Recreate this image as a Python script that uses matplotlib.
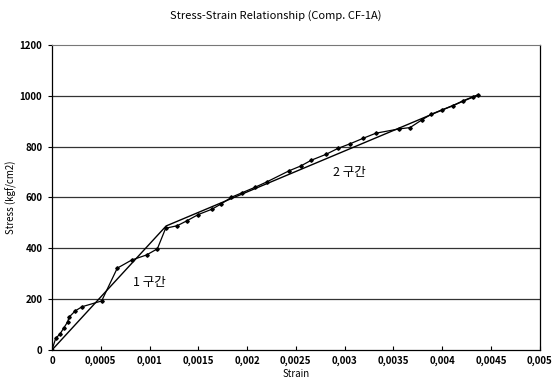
import numpy as np
from matplotlib import pyplot as plt
from matplotlib.ticker import FuncFormatter

plt.rcParams['font.family'] = ['Noto Sans CJK KR', 'DejaVu Sans']

strain = [0.0, 0.000038, 0.000082, 0.000123, 0.000161, 0.000174, 0.000239, 0.000307,
          0.000509, 0.000669, 0.000817, 0.00097, 0.00108, 0.001165, 0.001284, 0.001386,
          0.0015, 0.00164, 0.001735, 0.00184, 0.00195, 0.00208, 0.0022, 0.00243,
          0.00255, 0.00266, 0.00281, 0.00293, 0.00306, 0.00319, 0.00332, 0.00356,
          0.00367, 0.00379, 0.00389, 0.004, 0.00411, 0.00421, 0.00432, 0.00437]
stress = [0, 46, 63, 88, 111, 129, 154, 170,
          193, 322, 354, 374, 398, 479, 489, 509,
          533, 554, 575, 601, 619, 640, 661, 705,
          724, 747, 770, 793, 812, 833, 853, 870,
          875, 905, 928, 945, 961, 980, 997, 1004]

# bilinear idealisation
bi_strain = [0.0, 0.00117, 0.00437]
bi_stress = [0, 488, 1004]

fig = plt.figure(figsize=(5.52, 3.9), dpi=100)
ax = fig.add_axes([0.0942, 0.1026, 0.8836, 0.782])

for y in [200, 400, 600, 800, 1000]:
    ax.axhline(y, color='#333333', lw=0.9, zorder=1)

ax.plot(bi_strain, bi_stress, color='black', lw=1.0, zorder=2)
ax.plot(strain, stress, color='black', lw=0.9, marker='D', ms=1.8, zorder=3)

ax.text(0.001, 264, '1 구간', fontsize=9, ha='center', va='center')
ax.text(0.00305, 697, '2 구간', fontsize=9, ha='center', va='center')

ax.set_xlim(0, 0.005)
ax.set_ylim(0, 1200)
ax.set_xticks(np.arange(0, 0.00501, 0.0005))
ax.set_yticks(range(0, 1201, 200))
ax.xaxis.set_major_formatter(FuncFormatter(
    lambda v, p: '0' if v == 0 else ('%g' % round(v, 4)).replace('.', ',')))
ax.tick_params(labelsize=7, length=3, width=0.8, direction='in', pad=4)
ax.tick_params(axis='y', direction='out', length=3)
for lab in ax.get_xticklabels() + ax.get_yticklabels():
    lab.set_fontweight('bold')

for s in ['left', 'bottom', 'right']:
    ax.spines[s].set_color('black')
    ax.spines[s].set_linewidth(0.9)
ax.spines['top'].set_color('#777777')
ax.spines['top'].set_linewidth(0.8)

ax.set_xlabel('Strain', fontsize=7, labelpad=2)
ax.set_ylabel('Stress (kgf/cm2)', fontsize=7)
ax.yaxis.set_label_coords(-0.072, 0.5)
fig.suptitle('Stress-Strain Relationship (Comp. CF-1A)', fontsize=8, y=0.975)

fig.savefig('out.png', dpi=100)
